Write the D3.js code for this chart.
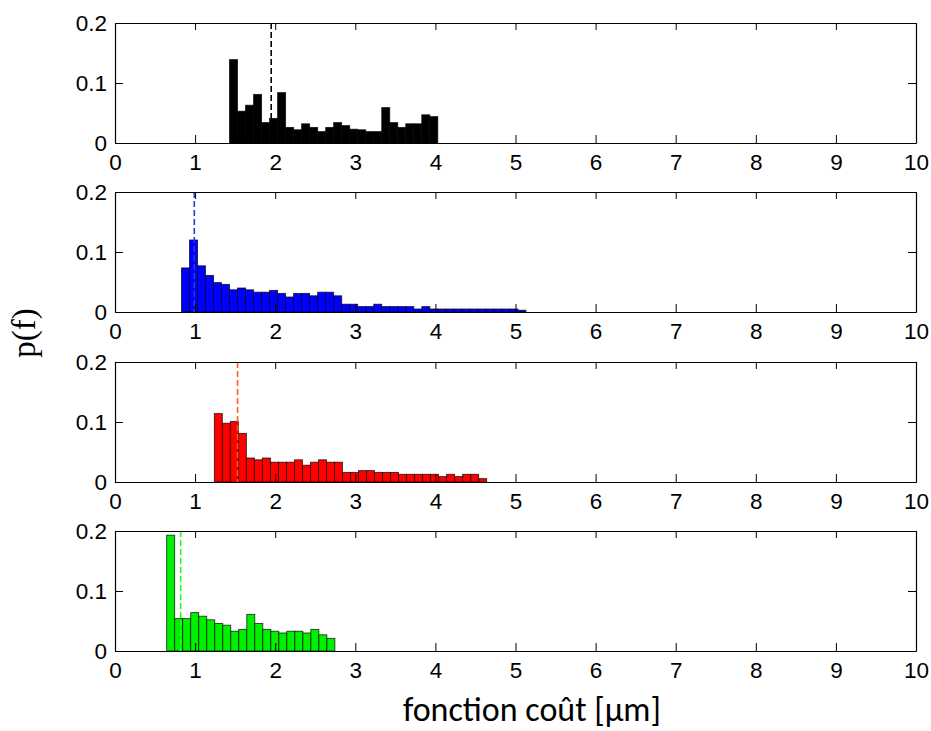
<!DOCTYPE html>
<html>
<head>
<meta charset="utf-8">
<script src="https://cdn.jsdelivr.net/npm/d3@7"></script>
<style>
  html, body { margin: 0; padding: 0; background: #fff; }
  svg { display: block; }
</style>
</head>
<body>
<svg id="chart" width="931" height="731"></svg>
<script>
// ---- data ----
const binWidth = 0.1;
const xTicks = [0, 1, 2, 3, 4, 5, 6, 7, 8, 9, 10];
const yTicks = [0, 0.1, 0.2];
const yTickLabels = ["0", "0.1", "0.2"];

const blackStart = 1.43;
const blackValues = [0.139,0.053,0.063,0.081,0.034,0.041,0.084,0.026,0.022,0.032,0.026,0.019,0.026,0.034,0.029,0.023,0.022,0.019,0.019,0.059,0.034,0.026,0.032,0.032,0.047,0.044];
const blackMean = 1.95;

const blueStart = 0.83;
const blueValues = [0.0735,0.120,0.077,0.061,0.049,0.046,0.037,0.040,0.037,0.033,0.033,0.036,0.031,0.025,0.031,0.031,0.027,0.033,0.033,0.027,0.013,0.013,0.009,0.009,0.013,0.009,0.009,0.009,0.009,0.005,0.009,0.005,0.005,0.005,0.005,0.005,0.005,0.005,0.005,0.005,0.005,0.005,0.003];
const blueMean = 0.99;

const redStart = 1.24;
const redValues = [0.114,0.098,0.101,0.081,0.040,0.037,0.040,0.033,0.033,0.033,0.037,0.028,0.033,0.037,0.033,0.033,0.016,0.016,0.019,0.019,0.016,0.016,0.016,0.0128,0.0128,0.0128,0.0128,0.0128,0.009,0.0128,0.009,0.0128,0.0128,0.0056];
const redMean = 1.53;

const greenStart = 0.645;
const greenValues = [0.193,0.054,0.054,0.064,0.058,0.052,0.046,0.043,0.033,0.036,0.061,0.046,0.036,0.033,0.030,0.033,0.033,0.030,0.036,0.027,0.021];
const greenMean = 0.82;

const yLabel = "p(f)";
const xLabel = "fonction coût [µm]";

// ---- layout ----
const panels = [
  { start: blackStart, values: blackValues, mean: blackMean, fill: "#000000", dash: "#000000", top: 23 },
  { start: blueStart, values: blueValues, mean: blueMean, fill: "#0000ff", dash: "#2a3ad8", top: 192 },
  { start: redStart, values: redValues, mean: redMean, fill: "#ff0000", dash: "#ff5a28", top: 362 },
  { start: greenStart, values: greenValues, mean: greenMean, fill: "#00f000", dash: "#22ff22", top: 531 }
];
const left = 115, right = 916, panelH = 120;
const tickFont = "'Liberation Sans', Arial, Helvetica, sans-serif";

const svg = d3.select("#chart");
const x = d3.scaleLinear().domain([0, 10]).range([left, right]);

panels.forEach(p => {
  const y = d3.scaleLinear().domain([0, 0.2]).range([p.top + panelH, p.top]);
  const g = svg.append("g");
  const bins = p.values.map((v, i) => ({ x0: p.start + i * binWidth, x1: p.start + (i + 1) * binWidth, v }));

  g.selectAll("rect.bar").data(bins).join("rect")
    .attr("class", "bar")
    .attr("x", d => x(d.x0))
    .attr("width", d => x(d.x1) - x(d.x0))
    .attr("y", d => y(d.v))
    .attr("height", d => y(0) - y(d.v))
    .attr("fill", p.fill)
    .attr("stroke", "#000")
    .attr("stroke-opacity", 0.75)
    .attr("stroke-width", 0.9);

  g.append("line")
    .attr("x1", x(p.mean)).attr("x2", x(p.mean))
    .attr("y1", y(0.2)).attr("y2", y(0))
    .attr("stroke", p.dash)
    .attr("stroke-width", 1.6)
    .attr("stroke-dasharray", "6,3");

  const bottom = g.append("g").attr("transform", `translate(0,${y(0)})`)
    .call(d3.axisBottom(x).tickValues(xTicks).tickFormat(d3.format("d")).tickSize(-8).tickSizeOuter(0).tickPadding(11));
  const topAx = g.append("g").attr("transform", `translate(0,${y(0.2)})`)
    .call(d3.axisTop(x).tickValues(xTicks).tickFormat("").tickSize(-7).tickSizeOuter(0));
  const leftAx = g.append("g").attr("transform", `translate(${left},0)`)
    .call(d3.axisLeft(y).tickValues(yTicks).tickFormat((d, i) => yTickLabels[i]).tickSize(-8).tickSizeOuter(0).tickPadding(8));
  const rightAx = g.append("g").attr("transform", `translate(${right},0)`)
    .call(d3.axisRight(y).tickValues(yTicks).tickFormat("").tickSize(-8).tickSizeOuter(0));

  [bottom, topAx, leftAx, rightAx].forEach(a => {
    a.attr("font-family", tickFont).attr("font-size", 22.5);
    a.selectAll("path.domain").attr("stroke", "#000").attr("stroke-width", 1.2);
    a.selectAll(".tick line").attr("stroke", "#000").attr("stroke-width", 1);
    a.selectAll(".tick text").attr("fill", "#000");
  });
});

svg.append("text")
  .attr("transform", "translate(35,333) rotate(-90)")
  .attr("text-anchor", "middle")
  .attr("font-family", "'Liberation Serif', 'Times New Roman', serif")
  .attr("font-size", 33)
  .text(yLabel);

svg.append("text")
  .attr("x", 532).attr("y", 721)
  .attr("text-anchor", "middle")
  .attr("font-family", "Carlito, Calibri, 'Open Sans', sans-serif")
  .attr("font-size", 34)
  .text(xLabel);
</script>
</body>
</html>
